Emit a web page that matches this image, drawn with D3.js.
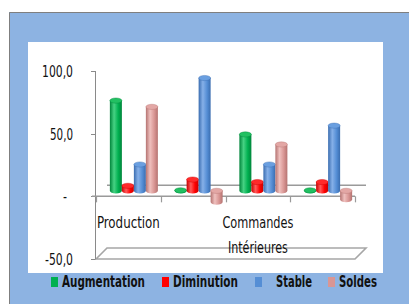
<!DOCTYPE html>
<html>
<head>
<meta charset="utf-8">
<script src="https://cdn.jsdelivr.net/npm/d3@7"></script>
<style>
  body { margin: 0; background: #fff; }
  svg { display: block; }
  text { font-family: "Liberation Sans Narrow", "DejaVu Sans Condensed", sans-serif; fill: #111; }
</style>
</head>
<body>
<svg id="chart" width="409" height="304"></svg>
<script>
// data
const categories = ["Production", "", "Commandes Intérieures", ""];
const seriesNames = ["Augmentation", "Diminution", "Stable", "Soldes"];
const augmentation = [72, 0.4, 45, 0.4];
const diminution = [4, 9, 7, 7];
const stable = [21, 90, 21, 52];
const soldes = [67, -9, 37, -7];
const yTicks = [-50, 0, 50, 100];
const yTickLabels = ["-50,0", "-", "50,0", "100,0"];

const series = [augmentation, diminution, stable, soldes];
const colors = [
  {base: "#00B050", light: "#46d283", dark: "#00853b", top: "#22c062"},
  {base: "#FF0000", light: "#ff5a5a", dark: "#c80000", top: "#ff2a2a"},
  {base: "#558ED5", light: "#86b0e8", dark: "#3a6db0", top: "#6a9fe0"},
  {base: "#D99694", light: "#efc0be", dark: "#b57371", top: "#e3a7a5"}
];

// the narrow office font is not here, so squeeze text to the widths seen
function fit(sel, w) {
  sel.each(function () {
    const t = d3.select(this);
    const len = this.getComputedTextLength();
    if (len > w) t.attr("textLength", w).attr("lengthAdjust", "spacingAndGlyphs");
  });
}

const svg = d3.select("#chart");

// outer blue frame and white panel
svg.append("rect").attr("x", 9).attr("y", 12).attr("width", 400).attr("height", 292).attr("fill", "#8DB3E2");
svg.append("path").attr("d", "M9.5,304V12.5H409").attr("fill", "none").attr("stroke", "#7f7f7f");
svg.append("rect").attr("x", 28).attr("y", 42).attr("width", 355).attr("height", 231).attr("fill", "#fff");

// 3d offsets
const depth = 11;
const half = depth / 2;

const y = d3.scaleLinear().domain([-50, 100]).range([259, 71]);
const x = d3.scaleBand().domain(d3.range(categories.length)).range([96, 355]);
const xs = d3.scaleBand().domain(d3.range(series.length)).range([0, 48]);

const defs = svg.append("defs");
colors.forEach((c, i) => {
  const g = defs.append("linearGradient").attr("id", "cyl" + i).attr("x1", 0).attr("x2", 1).attr("y1", 0).attr("y2", 0);
  g.append("stop").attr("offset", "0%").attr("stop-color", c.dark);
  g.append("stop").attr("offset", "35%").attr("stop-color", c.light);
  g.append("stop").attr("offset", "70%").attr("stop-color", c.base);
  g.append("stop").attr("offset", "100%").attr("stop-color", c.dark);
});

const grey = "#9a9a9a";

// floor at -50
const y50 = y(-50);
svg.append("path")
  .attr("d", `M${x.range()[0]},${y50}L${x.range()[0] + depth},${y50 - depth}L${x.range()[1] + depth},${y50 - depth}L${x.range()[1]},${y50}Z`)
  .attr("fill", "#fff").attr("stroke", "#a6a6a6").attr("stroke-width", 1.6);

// back wall zero line
svg.append("line")
  .attr("x1", x.range()[0] + depth).attr("x2", x.range()[1] + depth)
  .attr("y1", y(0) - depth).attr("y2", y(0) - depth)
  .attr("stroke", grey).attr("stroke-width", 1.5);

// value axis
svg.append("line").attr("x1", 95.5).attr("x2", 95.5).attr("y1", y(100)).attr("y2", y(-50)).attr("stroke", "#8a8a8a");
svg.selectAll(".ytick").data(yTicks).join("line")
  .attr("x1", 91).attr("x2", 95.5).attr("y1", d => Math.round(y(d)) + 0.5).attr("y2", d => Math.round(y(d)) + 0.5)
  .attr("stroke", "#8a8a8a");
const yWidths = {"-50,0": 28, "-": 4, "50,0": 23, "100,0": 31};
svg.selectAll(".ylab").data(yTicks).join("text")
  .attr("x", (d, i) => yTickLabels[i] === "-" ? 67 : 73)
  .attr("y", d => y(d) + 6)
  .attr("text-anchor", "end")
  .attr("font-size", 16)
  .text((d, i) => yTickLabels[i])
  .each(function (d, i) { fit(d3.select(this), yWidths[yTickLabels[i]]); });

// category axis at zero (front)
svg.append("line").attr("x1", 92).attr("x2", x.range()[1]).attr("y1", y(0)).attr("y2", y(0))
  .attr("stroke", grey).attr("stroke-width", 1.5);
const bounds = x.domain().map(d => x(d)).concat([x.range()[1]]);
svg.selectAll(".xtick").data(bounds).join("line")
  .attr("x1", d => Math.round(d) + 0.5).attr("x2", d => Math.round(d) + 0.5)
  .attr("y1", y(0)).attr("y2", y(0) + 6)
  .attr("stroke", grey).attr("stroke-width", 1.2);

// category labels, one text per line so each can be squeezed
const wordWidths = {"Production": 63, "Commandes": 71, "Intérieures": 60};
categories.forEach((c, i) => {
  if (!c) return;
  c.split(" ").forEach((w, j) => {
    svg.append("text")
      .attr("text-anchor", "middle")
      .attr("font-size", 16)
      .attr("x", x(i) + x.bandwidth() / 2)
      .attr("y", 228 + j * 25)
      .text(w)
      .call(fit, wordWidths[w] || 70);
  });
});

// cylinders
const rx = 6, ry = 2.6;
const bars = [];
categories.forEach((c, ci) => {
  series.forEach((s, si) => {
    bars.push({ci, si, v: s[ci]});
  });
});

const g = svg.append("g");
bars.forEach(b => {
  const x0 = x(b.ci) + x.bandwidth() / 2 - 24 + half + xs(b.si);
  const cx = x0 + xs.bandwidth() / 2;
  const yTop = Math.min(y(b.v), y(0)) - half;
  const yBot = Math.max(y(b.v), y(0)) - half;
  const c = colors[b.si];
  g.append("path")
    .attr("d", `M${x0},${yTop}L${x0},${yBot}A${rx},${ry} 0 0 0 ${x0 + 2 * rx},${yBot}L${x0 + 2 * rx},${yTop}Z`)
    .attr("fill", `url(#cyl${b.si})`);
  g.append("ellipse")
    .attr("cx", cx).attr("cy", yTop).attr("rx", rx).attr("ry", ry)
    .attr("fill", c.top).attr("stroke", c.dark).attr("stroke-width", 0.4);
});

// legend
const legendX = [51, 162, 255, 328];
const legendTextX = [62, 173, 276, 339];
const legendW = [83, 65, 36, 38];
const lg = svg.selectAll(".leg").data(seriesNames).join("g");
lg.append("rect")
  .attr("x", (d, i) => legendX[i]).attr("y", 277).attr("width", 7).attr("height", 10)
  .attr("fill", (d, i) => colors[i].base);
lg.append("text")
  .attr("x", (d, i) => legendTextX[i]).attr("y", 287)
  .attr("font-size", 15).attr("font-weight", "bold")
  .text(d => d)
  .each(function (d, i) { fit(d3.select(this), legendW[i]); });
</script>
</body>
</html>
